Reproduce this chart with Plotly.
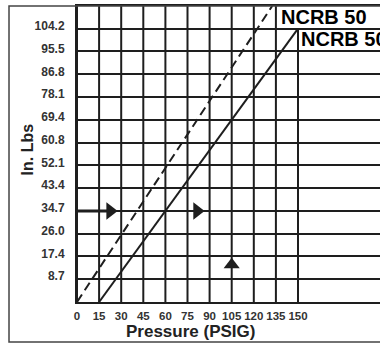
import plotly.graph_objects as go

# Pressure axis ticks (PSIG) and torque grid values (in. lbs)
pressure_ticks = [0, 15, 30, 45, 60, 75, 90, 105, 120, 135, 150]
torque_ticks = [8.7, 17.4, 26.0, 34.7, 43.4, 52.1, 60.8, 69.4, 78.1, 86.8, 95.5, 104.2]
torque_top = 112.84

# Two torque curves
dashed_psig = [0, 132.5]
dashed_torque = [0, 112.84]
solid_psig = [15, 150]
solid_torque = [0, 104.2]
curve_labels = ["NCRB 50", "NCRB 50"]

# Direction arrows along the chart
arrow_right_psig = [22.5, 81.5]
arrow_right_torque = [34.7, 34.7]
arrow_up_psig = [105]
arrow_up_torque = [14.2]

INK = "#1e1e1e"
FONT = "Liberation Sans, Arial, sans-serif"

fig = go.Figure()

# vertical grid lines (the last one stops under the second label)
for p in pressure_ticks:
    top = solid_torque[-1] if p == pressure_ticks[-1] else torque_top
    fig.add_shape(type="line", xref="x", yref="y", x0=p, x1=p, y0=0, y1=top,
                  line=dict(color=INK, width=2), layer="below")

# heavier lead-in to the first arrow
fig.add_trace(go.Scatter(x=[0, arrow_right_psig[0]], y=[arrow_right_torque[0]] * 2,
                         mode="lines", line=dict(color=INK, width=3),
                         showlegend=False, hoverinfo="skip"))

fig.add_trace(go.Scatter(x=dashed_psig, y=dashed_torque, mode="lines",
                         line=dict(color=INK, width=2, dash="9px,5px"),
                         showlegend=False, hoverinfo="skip"))
fig.add_trace(go.Scatter(x=solid_psig, y=solid_torque, mode="lines",
                         line=dict(color=INK, width=2),
                         showlegend=False, hoverinfo="skip"))
fig.add_trace(go.Scatter(x=arrow_right_psig, y=arrow_right_torque, mode="markers",
                         marker=dict(symbol="triangle-right", size=15, color=INK),
                         showlegend=False, hoverinfo="skip"))
fig.add_trace(go.Scatter(x=arrow_up_psig, y=arrow_up_torque, mode="markers",
                         marker=dict(symbol="triangle-up", size=14, color=INK),
                         showlegend=False, hoverinfo="skip"))

# curve labels
fig.add_annotation(x=dashed_psig[-1], y=torque_top, xref="x", yref="y",
                   text=curve_labels[0], showarrow=False, xanchor="left", yanchor="top",
                   xshift=7, yshift=2,
                   font=dict(family=FONT, size=20, color="#000", weight="bold"))
fig.add_annotation(x=solid_psig[-1], y=solid_torque[-1], xref="x", yref="y",
                   text=curve_labels[1], showarrow=False, xanchor="left", yanchor="top",
                   xshift=1, yshift=3,
                   font=dict(family=FONT, size=20, color="#000", weight="bold"))

# axis titles
fig.add_annotation(x=-0.162, y=0.515, xref="paper", yref="paper", text="In. Lbs",
                   textangle=-90, showarrow=False, xanchor="center", yanchor="middle",
                   font=dict(family=FONT, size=16, color="#222", weight="bold"))
fig.add_annotation(x=75, y=-0.101, xref="x", yref="paper", text="Pressure (PSIG)",
                   showarrow=False, xshift=3, xanchor="center", yanchor="middle",
                   font=dict(family=FONT, size=17, color="#222", weight="bold"))

# outer frame
fig.add_shape(type="rect", xref="paper", yref="paper", x0=-0.2244, x1=1.1, y0=-0.135, y1=1.0,
              line=dict(color="#444", width=1.5), layer="above")

fig.update_layout(
    width=380, height=344,
    margin=dict(l=77, r=0, t=6, b=42),
    paper_bgcolor="white", plot_bgcolor="white",
    xaxis=dict(range=[0, 205.66], tickvals=pressure_ticks,
               ticktext=[str(p) for p in pressure_ticks],
               showgrid=False, zeroline=False, showline=True, linecolor=INK,
               linewidth=2, mirror=True, ticks="", ticklabelstandoff=2,
               tickfont=dict(family=FONT, size=11.5, color="#333", weight="bold")),
    yaxis=dict(range=[0, torque_top], tickvals=torque_ticks,
               ticktext=[f"{t:.1f}" for t in torque_ticks],
               showgrid=True, gridcolor=INK, gridwidth=2, zeroline=False,
               showline=True, linecolor=INK, linewidth=2, ticks="",
               ticklabelstandoff=8, ticklabelshift=-3,
               tickfont=dict(family=FONT, size=12, color="#333", weight="bold")),
)

fig.write_html("out.html")
